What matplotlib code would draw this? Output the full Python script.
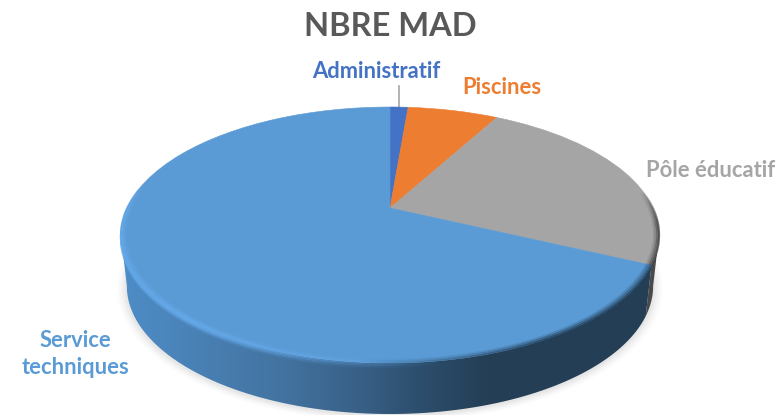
# -*- coding: utf-8 -*-
#IMPORTS
import matplotlib
matplotlib.use('Agg')
import matplotlib.pyplot as plt
import numpy as np
from matplotlib.collections import LineCollection
from matplotlib.colors import LinearSegmentedColormap
from matplotlib.patches import Polygon
from matplotlib.transforms import Transform

plt.rcParams['font.family'] = ['Lato', 'DejaVu Sans']

#DATA
categories = ['Administratif', 'Piscines', 'Pôle éducatif', 'Service\ntechniques']
values = [1, 5, 18, 51]
colors = ['#4472c4', '#ed7d31', '#a5a5a5', '#5b9bd5']
title = 'NBRE MAD'

#GEOMETRY of the tilted disc, in pixels
cx = 390
cy = 208
rad = 263
height = 122.3
persp = 0.211
depth = 51
base_scale = 0.978
#angles where the projected rim is widest
side_r = np.degrees(np.arccos(-persp))
side_l = 360 - side_r


#perspective projection of the unit circle that ax.pie draws
class PieProjection(Transform):
    input_dims = 2
    output_dims = 2
    is_separable = False
    has_inverse = False

    def transform_non_affine(self, values):
        xy = np.asarray(values, dtype=float)
        s = 1 / (1 + persp * xy[:, 1])
        return np.column_stack((cx + rad * xy[:, 0] * s, cy - height * xy[:, 1] * s))


#point of a rim, angle in degrees clockwise from the top
def rim(angle, radius=1.0, shift=0.0, scale=1.0):
    a = np.radians(angle)
    u = radius * np.sin(a)
    v = radius * np.cos(a)
    s = 1 / (1 + persp * v)
    return cx + rad * scale * u * s, cy + shift - height * v * s


#band between the top rim and the base rim
def wall(a0, a1):
    a = np.linspace(a0, a1, 200)
    x0, y0 = rim(a)
    x1, y1 = rim(a[::-1], shift=depth, scale=base_scale)
    return np.column_stack((np.r_[x0, x1], np.r_[y0, y1]))


#line along the rim whose opacity changes with the angle
def glow(ax, a, radius, color, alpha, lw, zorder, shift=0.0):
    x, y = rim(a, radius=radius, shift=shift)
    pts = np.column_stack((x, y)).reshape(-1, 1, 2)
    segs = np.concatenate((pts[:-1], pts[1:]), axis=1)
    rgba = np.tile(matplotlib.colors.to_rgba(color), (len(segs), 1))
    rgba[:, 3] = alpha[:-1]
    ax.add_collection(LineCollection(segs, colors=rgba, linewidths=lw, zorder=zorder, capstyle='butt'))


fig = plt.figure(figsize=(7.81, 4.15), dpi=100)
ax = fig.add_axes([0, 0, 1, 1])

#pie slices, projected on the tilted disc
wedges, _ = ax.pie(values, colors=colors, startangle=90, counterclock=False, radius=1)
proj = PieProjection() + ax.transData
for w, c in zip(wedges, colors):
    w.set_transform(proj)
    w.set_edgecolor(c)
    w.set_linewidth(0.4)
    w.set_zorder(5)

ax.set_aspect('auto')
ax.set_xlim(0, 781)
ax.set_ylim(415, 0)
ax.axis('off')

edges = np.cumsum(values) / np.sum(values) * 360
blue_start = edges[2]

#soft shadow under the disc
a_all = np.linspace(0, 360, 300)
for grow, al in zip([1.035, 1.028, 1.021, 1.014, 1.007], [0.02, 0.03, 0.04, 0.05, 0.06]):
    x, y = rim(a_all, radius=grow, shift=depth + 1, scale=base_scale)
    ax.fill(x, y, color='#808080', alpha=al, lw=0, zorder=1)

#side wall of the grey slice
ax.add_patch(Polygon(wall(side_r, blue_start), closed=True, facecolor='#4a4a4a', edgecolor='none', zorder=2))

#side wall of the blue slice, shaded from left to right
wall_cmap = LinearSegmentedColormap.from_list('wall', [
    (0.0, '#4e8dc7'), (0.3, '#4373a0'), (0.45, '#385f85'),
    (0.55, '#2d4f6e'), (0.68, '#243f56'), (1.0, '#233e55')])
grad = ax.imshow(np.linspace(0, 1, 512).reshape(1, -1), cmap=wall_cmap, aspect='auto',
                 extent=(121, 659, 415, 0), zorder=3)
ax.set_xlim(0, 781)
ax.set_ylim(415, 0)
grad.set_clip_path(Polygon(wall(blue_start, side_l), closed=True, transform=ax.transData))

#bevel: light edge on the left of the blue slice, dark blur on the right
a_blue = np.linspace(blue_start, 360, 500)
light = np.clip((a_blue - 170) / 50, 0, 1) * np.clip((282 - a_blue) / 14, 0, 1)
for sh, lw, al in zip([5, 3.5, 2, 0.5], [1.5, 1.5, 1.5, 1.5], [0.15, 0.4, 0.75, 0.95]):
    glow(ax, a_blue, 1.0, '#66aaeb', light * al, lw, 4, shift=sh)
for r, lw, al in zip([0.997, 0.99, 0.983], [1.5, 1.5, 1.5], [0.9, 0.55, 0.2]):
    glow(ax, a_blue, r, '#66aaeb', light * al, lw, 6)
dark = np.clip((185 - a_blue) / 35, 0, 1)
for r, lw, al in zip([1.0, 0.992, 0.984], [2.0, 2.0, 2.0], [0.8, 0.45, 0.2]):
    glow(ax, a_blue, r, '#23405a', dark * al, lw, 6)

#bevel: dark edge of the grey slice
a_grey = np.linspace(edges[1], blue_start, 300)
shade = np.clip((a_grey - 82) / 15, 0, 1)
for r, lw, al in zip([1.0, 0.994, 0.988, 0.982], [1.5, 1.5, 1.5, 1.5], [0.9, 0.6, 0.3, 0.12]):
    glow(ax, a_grey, r, '#3c3c3c', shade * al, lw, 6)

#texts
ax.text(390, 26, title, color='#595959', fontsize=23.5, fontweight='bold', ha='center', va='center', zorder=8)
label_pos = [(376, 72), (502, 88), (711, 170), (75, 354)]
for name, c, (tx, ty) in zip(categories, colors, label_pos):
    ax.text(tx, ty, name, color=c, fontsize=15.8, fontweight='bold', ha='center', va='center',
            linespacing=1.3, zorder=8)

#leader line of the small slice
lx, ly = rim(edges[0] / 2)
ax.plot([lx, lx], [86, ly], color='#a6a6a6', lw=1.2, zorder=4)

fig.savefig('out.png', dpi=100, facecolor='white')
